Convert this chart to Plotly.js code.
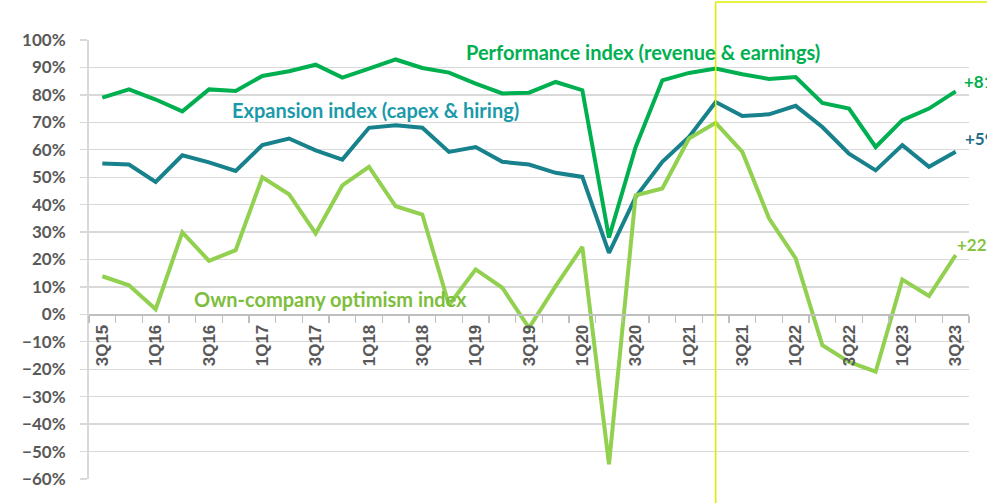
<!DOCTYPE html>
<html>
<head>
<meta charset="utf-8">
<script src="https://cdn.plot.ly/plotly-3.0.1.min.js"></script>
<style>html,body{margin:0;padding:0;background:#fff}#chart{width:987px;height:503px}</style>
</head>
<body>
<div id="chart"></div>
<script>
const categories = ['3Q15','4Q15','1Q16','2Q16','3Q16','4Q16','1Q17','2Q17','3Q17','4Q17',
  '1Q18','2Q18','3Q18','4Q18','1Q19','2Q19','3Q19','4Q19','1Q20','2Q20','3Q20','4Q20',
  '1Q21','2Q21','3Q21','4Q21','1Q22','2Q22','3Q22','4Q22','1Q23','2Q23','3Q23'];
const tickLabels = categories.map((c, i) => (i % 2 === 0 ? c : ''));

const performance = [79, 82, 78.3, 74, 82, 81.4, 86.9, 88.6, 91, 86.3,
  89.6, 92.9, 89.8, 88.1, 84.1, 80.5, 80.8, 84.7, 81.7, 28, 61, 85.3,
  88, 89.6, 87.5, 85.8, 86.5, 77.1, 75, 61, 70.8, 75, 81.3];
const expansion = [55, 54.6, 48.3, 58, 55.4, 52.3, 61.7, 64.1, 59.8, 56.4,
  68, 68.9, 68, 59.2, 61, 55.6, 54.6, 51.6, 50.1, 22.4, 42.8, 55.6,
  64.7, 77.4, 72.3, 72.9, 76, 68.3, 58.6, 52.5, 61.7, 53.8, 59.3];
const optimism = [13.9, 10.6, 1.9, 29.9, 19.5, 23.4, 50, 43.8, 29.5, 47,
  53.8, 39.4, 36.4, 3.4, 16.4, 9.7, -4.9, 10.3, 24.6, -54.6, 43.4, 45.9,
  64.1, 69.8, 59.2, 35, 20.4, -11.2, -17.3, -20.9, 12.7, 6.7, 21.6];
const seriesNames = ['Performance index (revenue & earnings)', 'Expansion index (capex & hiring)', 'Own-company optimism index'];
const highlightQuarter = '2Q21';

const lineColors = ['#00B050', '#17818C', '#92D050'];
const textColors = ['#00B050', '#1B9AAA', '#7DBE3C'];
const endColors = ['#00B050', '#1F6F8B', '#86C440'];
const seriesData = [performance, expansion, optimism];

const traces = seriesData.map((vals, k) => ({
  type: 'scatter', mode: 'lines', x: categories, y: vals, name: seriesNames[k],
  line: {color: lineColors[k], width: 4}, hoverinfo: 'skip', cliponaxis: false
}));

// series label positions (category index, value)
const labelPos = [[13.58, 95.6], [4.77, 74.4], [3.35, 5.5]];
const endShift = [[6, 8], [7, 12], [-1, 9]];
const annotations = [];
seriesNames.forEach((n, k) => {
  annotations.push({x: labelPos[k][0], y: labelPos[k][1], xref: 'x', yref: 'y', text: n,
    showarrow: false, xanchor: 'left', yanchor: 'middle',
    font: {family: 'Lato, sans-serif', size: 20, color: textColors[k], weight: 'bold'}});
  const last = seriesData[k][seriesData[k].length - 1];
  annotations.push({x: categories[categories.length - 1], y: last, xref: 'x', yref: 'y',
    text: '+' + Math.round(last), showarrow: false, xanchor: 'left', yanchor: 'bottom',
    xshift: endShift[k][0], yshift: endShift[k][1] - 11,
    font: {family: 'Lato, sans-serif', size: 17, color: endColors[k], weight: 'bold'}});
});

const hIdx = categories.indexOf(highlightQuarter);
const hFrac = (hIdx + 0.5) / categories.length;
const boxColor = '#DFEE00';
const shapes = [
  {type: 'line', xref: 'x domain', yref: 'paper', x0: hFrac, x1: hFrac, y0: -0.2, y1: 1.0865,
   line: {color: boxColor, width: 1.6}, layer: 'above'},
  {type: 'line', xref: 'x domain', yref: 'paper', x0: hFrac, x1: 1.2, y0: 1.0865, y1: 1.0865,
   line: {color: boxColor, width: 1.6}, layer: 'above'}
];

const layout = {
  width: 987, height: 503,
  margin: {l: 89, r: 18, t: 40, b: 24, pad: 0},
  paper_bgcolor: '#ffffff', plot_bgcolor: '#ffffff',
  showlegend: false, hovermode: false,
  xaxis: {
    type: 'category', categoryorder: 'array', categoryarray: categories,
    range: [-0.5, categories.length - 0.5],
    tickmode: 'array', tickvals: categories, ticktext: tickLabels,
    tickson: 'boundaries', ticks: 'outside', ticklen: 7, tickwidth: 1.5, tickcolor: '#BFBFBF',
    showline: true, linecolor: '#BFBFBF', linewidth: 1.5,
    showgrid: false, zeroline: false,
    anchor: 'free', position: 0.375, tickangle: -90, ticklabelstandoff: 2,
    tickfont: {family: 'Liberation Sans, Arial, sans-serif', size: 17, color: '#595959', weight: 'bold'}
  },
  yaxis: {
    range: [-60, 100], tickmode: 'linear', tick0: 0, dtick: 10, ticksuffix: '%',
    showgrid: true, gridcolor: '#D9D9D9', gridwidth: 1.3,
    showline: true, linecolor: '#D9D9D9', linewidth: 2,
    ticks: 'outside', ticklen: 7, tickwidth: 1.3, tickcolor: '#D9D9D9',
    zeroline: false, ticklabelstandoff: 11,
    tickfont: {family: 'Lato, sans-serif', size: 17, color: '#595959', weight: 'bold'}
  },
  annotations: annotations,
  shapes: shapes
};

Plotly.newPlot('chart', traces, layout, {staticPlot: true, displayModeBar: false});
</script>
</body>
</html>
